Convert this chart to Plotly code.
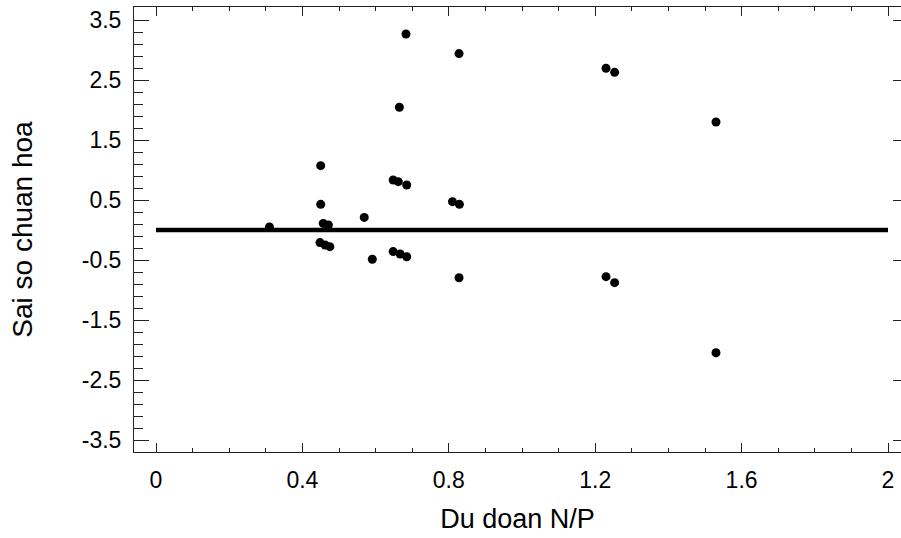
import plotly.graph_objects as go

# Predicted N/P values and standardized residuals
pred_np = [0.310, 0.450, 0.450, 0.457, 0.471, 0.448, 0.462, 0.475,
           0.569, 0.591, 0.648, 0.662, 0.685, 0.665, 0.683, 0.648,
           0.667, 0.685, 0.810, 0.829, 0.828, 0.828, 1.2295, 1.253,
           1.2295, 1.253, 1.530, 1.530]
std_resid = [0.05, 1.072, 0.428, 0.11, 0.083, -0.21, -0.25, -0.278,
             0.21, -0.488, 0.833, 0.806, 0.75, 2.045, 3.267, -0.36,
             -0.40, -0.445, 0.472, 0.428, 2.94, -0.795, 2.695, 2.628,
             -0.778, -0.878, 1.80, -2.045]

# Reference line at zero residual
ref_x = [0, 2]
ref_y = [0, 0]

x_ticks = [0, 0.4, 0.8, 1.2, 1.6, 2]
x_ticklabels = ["0", "0.4", "0.8", "1.2", "1.6", "2"]
y_ticks = [-3.5, -2.5, -1.5, -0.5, 0.5, 1.5, 2.5, 3.5]
y_ticklabels = ["-3.5", "-2.5", "-1.5", "-0.5", "0.5", "1.5", "2.5", "3.5"]

x_range = [-0.0601, 2.0355]
y_range = [-3.70, 3.7167]

FONT = "Liberation Sans, Arial, sans-serif"
AX = "#222222"

fig = go.Figure()
fig.add_trace(go.Scatter(x=ref_x, y=ref_y, mode="lines",
                         line=dict(color="black", width=4.5),
                         hoverinfo="skip", showlegend=False))
fig.add_trace(go.Scatter(x=pred_np, y=std_resid, mode="markers",
                         marker=dict(color="black", size=9, line=dict(width=0)),
                         showlegend=False))
# invisible trace to activate right-side tick axis
fig.add_trace(go.Scatter(x=[None], y=[None], yaxis="y2", showlegend=False,
                         hoverinfo="skip"))

fig.update_layout(
    width=901, height=538,
    margin=dict(l=134, r=0, t=7, b=86),
    paper_bgcolor="white", plot_bgcolor="white",
    font=dict(family=FONT, color="black"),
    xaxis=dict(
        range=x_range, tickvals=x_ticks, ticktext=x_ticklabels,
        ticks="inside", ticklen=9, tickwidth=1, tickcolor=AX,
        minor=dict(dtick=0.1, tick0=0, ticks="inside", ticklen=4,
                   tickwidth=1, tickcolor=AX, showgrid=False),
        showline=True, linecolor=AX, linewidth=1, mirror="ticks",
        showgrid=False, zeroline=False,
        tickfont=dict(size=23, family=FONT, color="black"),
        ticklabelstandoff=7,
        title=dict(text="Du doan N/P", font=dict(size=27, family=FONT, color="black"),
                   standoff=17),
    ),
    yaxis=dict(
        range=y_range, tickvals=y_ticks, ticktext=y_ticklabels,
        ticks="inside", ticklen=15, tickwidth=1, tickcolor=AX,
        minor=dict(dtick=0.2, tick0=-3.5, ticks="inside", ticklen=9,
                   tickwidth=1, tickcolor=AX, showgrid=False),
        showline=True, linecolor=AX, linewidth=1, mirror=False,
        showgrid=False, zeroline=False,
        tickfont=dict(size=23, family=FONT, color="black"),
        ticklabelstandoff=7,
        title=dict(text="Sai so chuan hoa", font=dict(size=28, family=FONT, color="black"),
                   standoff=40),
    ),
    yaxis2=dict(
        range=y_range, overlaying="y", side="right", tickvals=y_ticks,
        ticks="inside", ticklen=8, tickwidth=1, tickcolor=AX,
        showticklabels=False, showline=False, showgrid=False, zeroline=False,
    ),
)

fig.write_html("out.html")
